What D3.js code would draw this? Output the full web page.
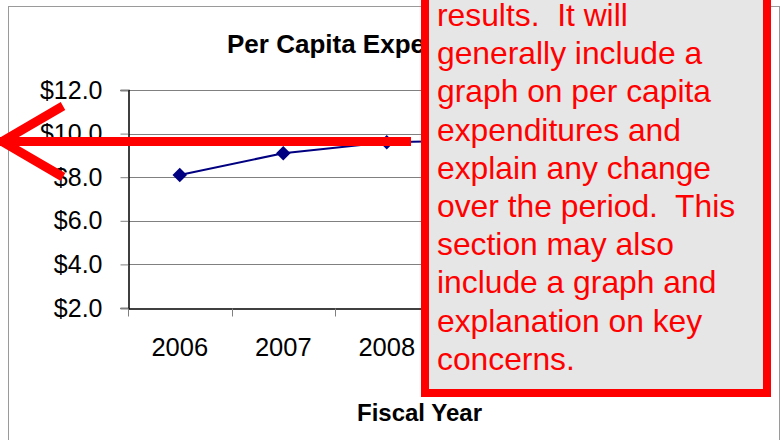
<!DOCTYPE html>
<html lang="en">
<head>
    <meta charset="UTF-8"/>
    <title>Per Capita Expenditures</title>
    <script src="https://d3js.org/d3.v7.min.js" charset="utf-8"></script>
    <style type="text/css">
        body { margin: 0; background: #fff; }
        text { font-family: "Liberation Sans", Arial, sans-serif; }
    </style>
</head>
<body>
<div id="chart"></div>
<script>
    // chart data (2009/2010 sit under the callout, estimated)
    var years = ["2006", "2007", "2008", "2009", "2010"];
    var perCapita = [8.1, 9.1, 9.6, 9.7, 9.9];
    var yTicks = [2, 4, 6, 8, 10, 12];
    var calloutLines = [
        "results.  It will",
        "generally include a",
        "graph on per capita",
        "expenditures and",
        "explain any change",
        "over the period.  This",
        "section may also",
        "include a graph and",
        "explanation on key",
        "concerns."
    ];

    var W = 781, H = 440;
    var margin = {top: 90, left: 128, bottom: 308, right: 645.5};

    var svg = d3.select("#chart").append("svg")
        .attr("width", W)
        .attr("height", H);

    // outer chart border
    svg.append("rect")
        .attr("x", 8.5).attr("y", 6.5)
        .attr("width", 771).attr("height", 500)
        .attr("fill", "#fff")
        .attr("stroke", "#9a9a9a");

    var x = d3.scaleBand()
        .domain(years)
        .range([margin.left, margin.right]);
    var y = d3.scaleLinear()
        .domain([2, 12])
        .range([margin.bottom, margin.top]);

    // gridlines
    svg.append("g").selectAll("line")
        .data(yTicks.slice(1))
        .enter().append("line")
        .attr("x1", margin.left).attr("x2", margin.right)
        .attr("y1", function (d) { return Math.round(y(d)) + 0.5; })
        .attr("y2", function (d) { return Math.round(y(d)) + 0.5; })
        .attr("stroke", "#808080");

    // y axis
    var yAxis = svg.append("g")
        .attr("transform", "translate(" + (margin.left + 0.5) + ",0)")
        .call(d3.axisLeft(y).tickValues(yTicks).tickSize(8).tickPadding(18)
            .tickFormat(function (d) { return "$" + d3.format(".1f")(d); }));
    yAxis.select(".domain").attr("stroke", "#000").attr("stroke-width", 1.5);
    yAxis.selectAll(".tick line").attr("stroke", "#808080");
    yAxis.selectAll("text").attr("font-size", 25).attr("fill", "#000");

    // x axis, ticks between categories
    var xAxis = svg.append("g")
        .attr("transform", "translate(0," + (margin.bottom + 0.5) + ")")
        .call(d3.axisBottom(x).tickSize(0).tickPadding(29));
    xAxis.select(".domain").attr("stroke", "#000").attr("stroke-width", 1.5);
    xAxis.selectAll("text").attr("font-size", 25.5).attr("fill", "#000");
    xAxis.selectAll(".sep")
        .data(years)
        .enter().append("line")
        .attr("class", "sep")
        .attr("x1", function (d) { return Math.round(x(d)) + 0.5; })
        .attr("x2", function (d) { return Math.round(x(d)) + 0.5; })
        .attr("y1", 0).attr("y2", 8)
        .attr("stroke", "#808080");

    // series
    var pts = years.map(function (d, i) { return [x(d) + x.bandwidth() / 2, y(perCapita[i])]; });
    svg.append("path")
        .attr("d", d3.line()(pts))
        .attr("fill", "none")
        .attr("stroke", "#000080")
        .attr("stroke-width", 2);
    svg.selectAll(".mark")
        .data(pts)
        .enter().append("path")
        .attr("class", "mark")
        .attr("d", d3.symbol().type(d3.symbolSquare).size(105))
        .attr("transform", function (d) { return "translate(" + d[0] + "," + d[1] + ") rotate(45)"; })
        .attr("fill", "#000080");

    // titles
    svg.append("text")
        .attr("x", 227).attr("y", 53)
        .attr("font-size", 26).attr("font-weight", "bold")
        .text("Per Capita Expenditures");
    svg.append("text")
        .attr("x", 357).attr("y", 421)
        .attr("font-size", 24).attr("font-weight", "bold")
        .text("Fiscal Year");

    // red arrow
    var arrow = svg.append("g")
        .attr("stroke", "#ff0000")
        .attr("stroke-width", 9)
        .attr("fill", "none");
    arrow.append("line").attr("x1", 0).attr("y1", 141.5).attr("x2", 411).attr("y2", 141.5);
    arrow.append("path").attr("d", "M63,106L2,141.5L63,177");

    // callout box
    var box = svg.append("g");
    box.append("rect")
        .attr("x", 425).attr("y", -20)
        .attr("width", 342).attr("height", 413)
        .attr("fill", "#e6e6e6")
        .attr("stroke", "#ff0000")
        .attr("stroke-width", 8);
    box.selectAll("text")
        .data(calloutLines)
        .enter().append("text")
        .attr("x", 437)
        .attr("y", function (d, i) { return 26 + i * 38.2; })
        .attr("font-size", 31.8)
        .attr("fill", "#ff0000")
        .attr("xml:space", "preserve")
        .style("white-space", "pre")
        .text(function (d) { return d; });
</script>
</body>
</html>
